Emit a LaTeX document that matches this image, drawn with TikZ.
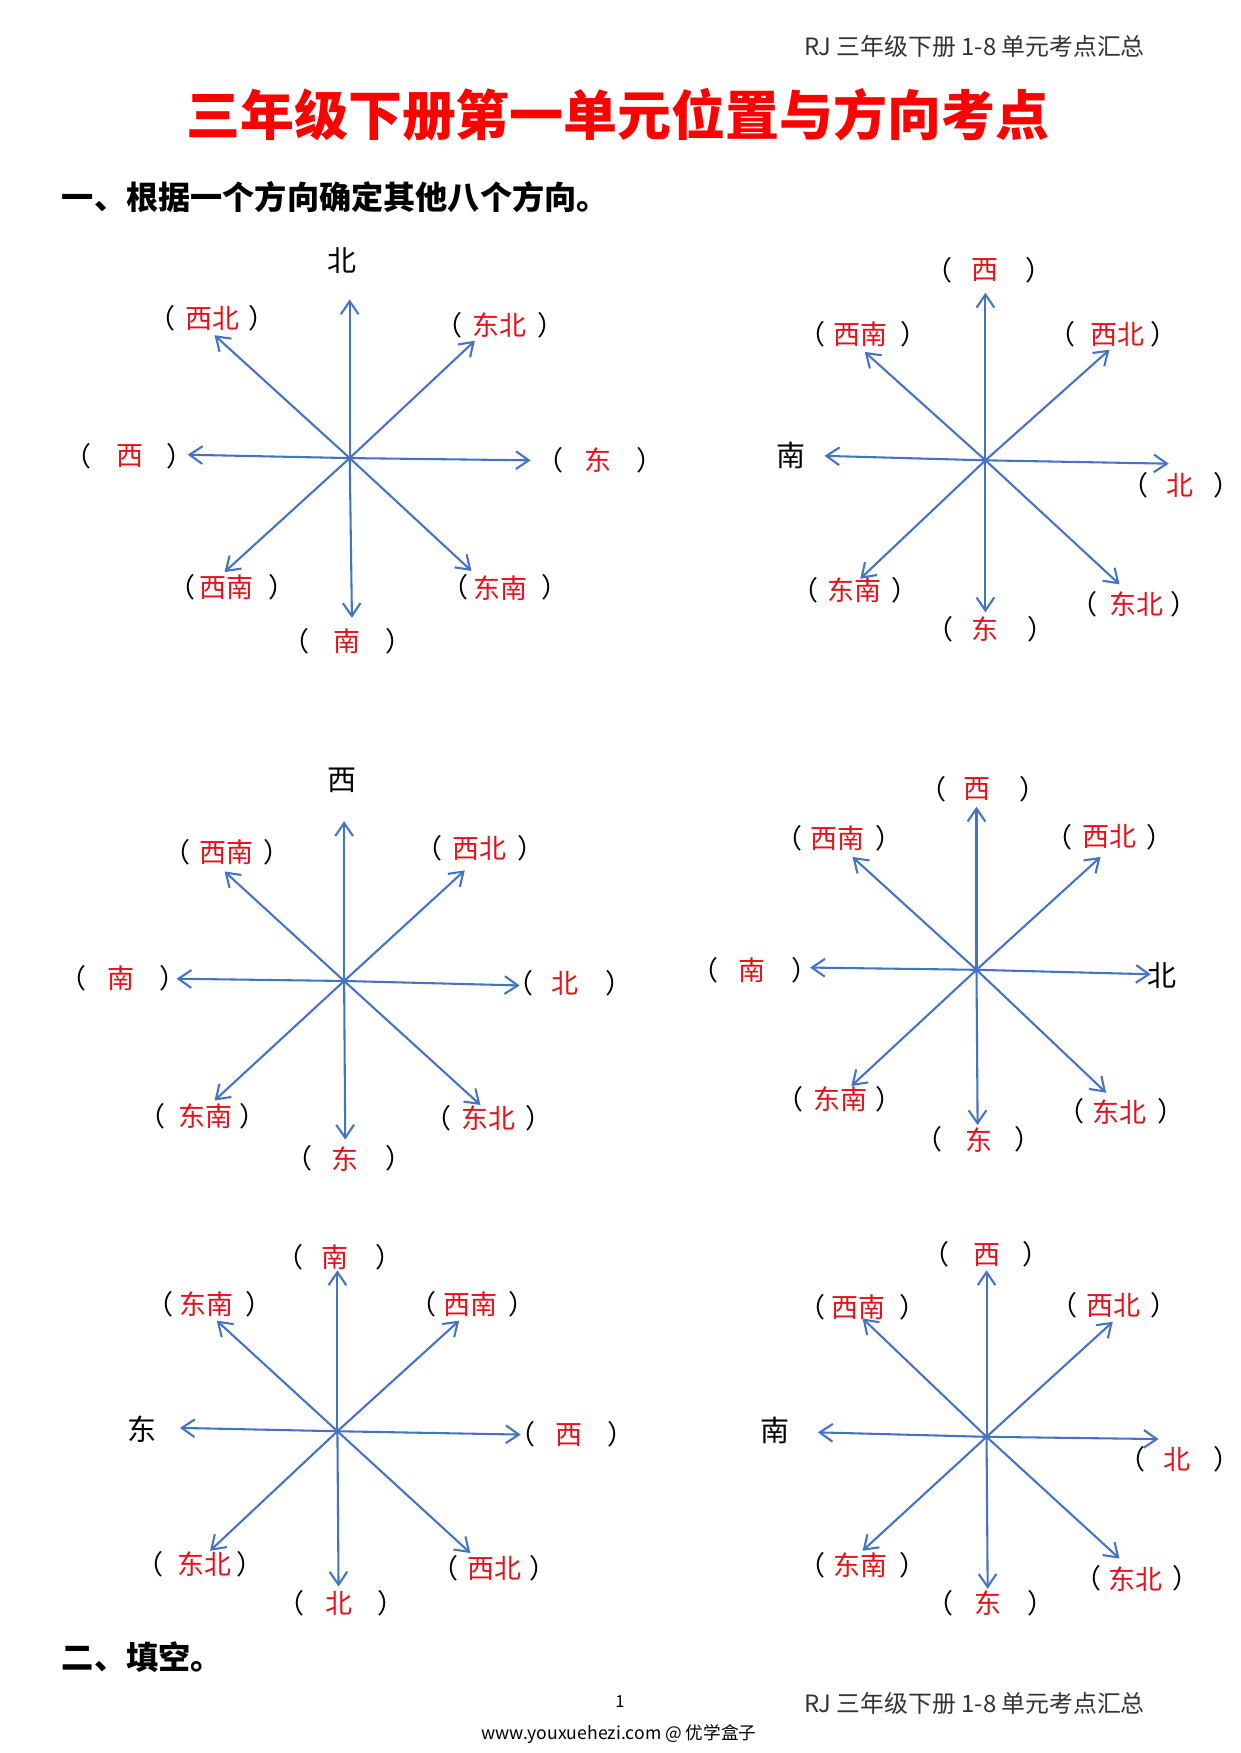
\documentclass[tikz,border=0pt]{standalone}
\usepackage{fontspec}
\newfontfamily\cjk{Noto Sans CJK SC}
\usetikzlibrary{arrows.meta}
\usepackage{xcolor}
\definecolor{dirblue}{RGB}{68,114,196}
\definecolor{ansred}{RGB}{228,18,24}
% 全角括号，去掉空白的一半
\newcommand{\lp}{\makebox[0.6em][r]{（}}
\newcommand{\rp}{\makebox[0.6em][l]{）}}

\begin{document}
\begin{tikzpicture}[x=0.018919cm, y=-0.018919cm]
    \tikzstyle{dirarrow} = [draw=dirblue, line width=1pt, -{Straight Barb[length=2.2mm,width=3mm]}]
    \tikzstyle{ans} = [text=ansred, inner sep=0pt, font=\cjk\fontsize{13}{13}\selectfont]
    \tikzstyle{par} = [inner sep=0pt, font=\cjk\fontsize{13}{13}\selectfont]
    \tikzstyle{given} = [inner sep=0pt, font=\cjk\fontsize{14}{14}\selectfont]

    \useasboundingbox (0,0) rectangle (1110,1569);
    \fill[white] (0,0) rectangle (1110,1569);

    % 页眉和标题
    \node[anchor=east, inner sep=0pt, text=black!80, font=\cjk\fontsize{11.5}{12}\selectfont] (header) at (1025,42) {RJ 三年级下册 1-8 单元考点汇总};
    \node[text=red, inner sep=0pt, font=\cjk\bfseries\fontsize{26}{26}\selectfont] (title) at (553,103) {三年级下册第一单元位置与方向考点};
    \node[anchor=west, inner sep=0pt, font=\cjk\bfseries\fontsize{15.5}{16}\selectfont] (part1) at (55,176) {一、根据一个方向确定其他八个方向。};

    % 中心点
    \coordinate (c1) at (313,410);
    \coordinate (c2) at (882,412);
    \coordinate (c3) at (308,878);
    \coordinate (c4) at (874,868);
    \coordinate (c5) at (302,1281);
    \coordinate (c6) at (883,1286);

    % 箭头终点
    \foreach \n/\x/\y in {1n/313/268, 1s/315/553, 1w/168/407, 1e/475/412, 1nw/192/300, 1ne/425/305, 1sw/201/512, 1se/422/511,
        2n/882/262, 2s/882/548, 2w/738/408, 2e/1046/415, 2nw/774/315, 2ne/993/313, 2sw/770/518, 2se/1002/523,
        3n/308/735, 3s/309/1020, 3w/158/876, 3e/465/882, 3nw/201/780, 3ne/416/779, 3sw/192/985, 3se/430/989,
        4n/874/722, 4s/875/1007, 4w/725/866, 4e/1030/872, 4nw/763/767, 4ne/985/767, 4sw/762/972, 4se/990/978,
        5n/302/1137, 5s/303/1420, 5w/161/1278, 5e/466/1284, 5nw/194/1182, 5ne/411/1182, 5sw/188/1388, 5se/421/1390,
        6n/883/1137, 6s/884/1422, 6w/732/1282, 6e/1037/1288, 6nw/772/1180, 6ne/996/1183, 6sw/772/1388, 6se/1002/1395}
        \coordinate (c\n) at (\x,\y);

    % 八个方向的箭头
    \foreach \k in {1,...,6}
        \foreach \d in {n,s,w,e,nw,ne,sw,se}
            \draw[dirarrow] (c\k) -- (c\k\d);

    % 已知方向
    \node[given] (g1) at (306,233) {北};
    \node[given] (g2) at (708,408) {南};
    \node[given] (g3) at (306,698) {西};
    \node[given] (g4) at (1040,873) {北};
    \node[given] (g5) at (127,1279) {东};
    \node[given] (g6) at (694,1280) {南};

    % 填写的答案
    \foreach \k/\t/\l/\m/\r/\y in {1s/南/270/311/352/574, 1w/西/75/116/156/408, 1e/东/497/535/577/412,
        1nw/西北/150/190/230/285, 1ne/东北/407/447/488/291, 1sw/西南/168/203/248/526, 1se/东南/412/448/492/526,
        2n/西/845/882/925/242, 2e/北/1021/1056/1093/434, 2s/东/846/882/927/563,
        2nw/西南/732/770/813/299, 2ne/西北/955/1000/1037/299, 2sw/东南/725/765/805/528, 2se/东北/975/1017/1055/541,
        3w/南/70/108/150/876, 3e/北/470/506/549/880, 3s/东/272/309/352/1037,
        3nw/西南/163/203/243/763, 3ne/西北/389/429/470/759, 3sw/东南/141/184/222/999, 3se/东北/397/437/478/1001,
        4n/西/840/874/920/706, 4w/南/636/673/716/868, 4s/东/836/876/915/1020,
        4nw/西南/711/750/791/750, 4ne/西北/953/993/1033/749, 4sw/东南/712/752/791/984, 4se/东北/963/1002/1043/995,
        5n/南/264/300/343/1125, 5e/西/472/509/551/1284, 5s/北/265/303/345/1435,
        5nw/东南/148/185/227/1167, 5ne/西南/383/421/462/1167, 5sw/东北/139/183/219/1400, 5se/西北/403/443/481/1404,
        6n/西/843/883/922/1123, 6e/北/1018/1053/1093/1306, 6s/东/846/884/927/1435,
        6nw/西南/732/768/812/1170, 6ne/西北/957/997/1037/1168, 6sw/东南/732/770/812/1401, 6se/东北/979/1016/1057/1413}{
        \node[par] (a\k l) at (\l,\y) {\lp};
        \node[ans] (a\k) at (\m,\y) {\t};
        \node[par] (a\k r) at (\r,\y) {\rp};
    }

    % 第二部分和页脚
    \node[anchor=west, inner sep=0pt, font=\cjk\bfseries\fontsize{15.5}{16}\selectfont] (part2) at (55,1483) {二、填空。};
    \node[inner sep=0pt, font=\cjk\fontsize{8}{8}\selectfont] (pageno) at (555,1523) {1};
    \node[anchor=east, inner sep=0pt, text=black!80, font=\cjk\fontsize{11.5}{12}\selectfont] (footer) at (1025,1525) {RJ 三年级下册 1-8 单元考点汇总};
    \node[inner sep=0pt, font=\cjk\fontsize{8.5}{9}\selectfont] (site) at (554,1552) {www.youxuehezi.com @ 优学盒子};
\end{tikzpicture}
\end{document}
